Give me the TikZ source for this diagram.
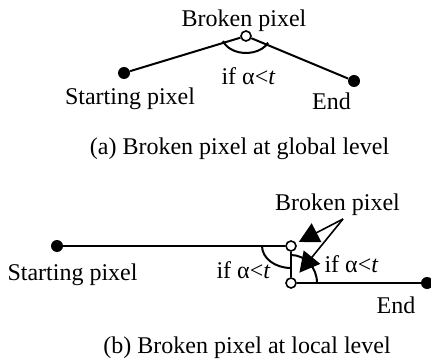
\documentclass[tikz,border=0pt]{standalone}
\usepackage{fontspec}
\setmainfont{Liberation Serif}
\usetikzlibrary{arrows.meta}

\begin{document}
\begin{tikzpicture}[x=0.5pt, y=-0.5pt,
  every node/.style={font=\fontsize{12}{14}\selectfont},
  dotf/.style={circle, fill, inner sep=0pt, minimum size=6pt},
  dotc/.style={circle, draw, fill=white, line width=0.8pt, inner sep=0pt, minimum size=5pt},
  lbl/.style={anchor=base, inner sep=0pt},
  ln/.style={line width=1pt},
  arr/.style={-{Triangle[length=10pt, width=10.5pt]}, line width=0.8pt}
]
\useasboundingbox (0,0) rectangle (431,362);
\node[dotf] (s1) at (124,73) {};
\node[dotc] (b1) at (246,36) {};
\node[dotf] (e1) at (354,81) {};
\draw[ln] (s1) -- (b1) -- (e1);
\draw[ln] ([shift={(163:24 and 17)}]b1.center) arc[start angle=163, end angle=23, x radius=24, y radius=17];
\node[lbl] (t1) at (244,27) {Broken pixel};
\node[lbl] (st1) at (130,105) {Starting pixel};
\node[lbl] (c1) at (248.5,85) {if α<\textit{t}};
\node[lbl] (en1) at (331.5,110) {End};
\node[lbl] (cap1) at (239.5,155) {(a) Broken pixel at global level};

\node[dotf] (s2) at (57,246) {};
\node[dotc] (b2) at (291,246) {};
\node[dotc] (b3) at (291,283) {};
\node[dotf] (e2) at (427,283) {};
\draw[ln] (s2) -- (b2) -- (b3) -- (e2);
\draw[ln] ([shift={(180:29 and 22)}]b2.center) arc[start angle=180, end angle=90, x radius=29, y radius=22];
\draw[ln] ([shift={(270:26 and 28)}]b3.center) arc[start angle=270, end angle=360, x radius=26, y radius=28];
\node[lbl] (t2) at (337.5,211) {Broken pixel};
\coordinate (src) at (343,219);
\draw[arr, shorten >=1.5pt] (src) -- (b2);
\draw[arr, shorten >=3.75pt] (src) -- (b3);
\node[lbl] (st2) at (72.5,280) {Starting pixel};
\node[lbl] (c2) at (243.5,278) {if α<\textit{t}};
\node[lbl] (c3) at (351.5,272) {if α<\textit{t}};
\node[lbl] (en2) at (396,313) {End};
\node[lbl] (cap2) at (247,353) {(b) Broken pixel at local level};
\end{tikzpicture}
\end{document}
